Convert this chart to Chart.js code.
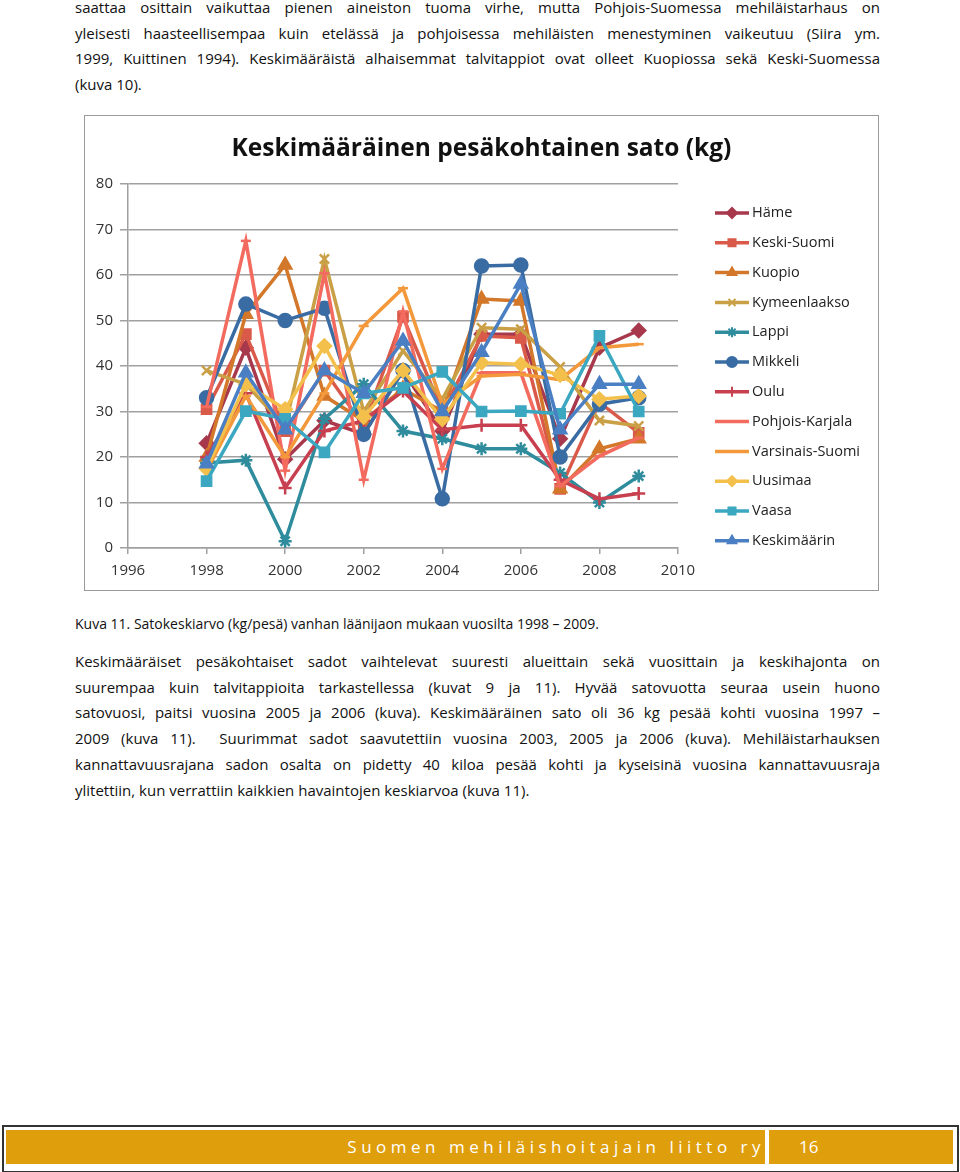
<!DOCTYPE html>
<html>
<head>
<meta charset="utf-8">
<script src="https://cdn.jsdelivr.net/npm/chart.js@4/dist/chart.umd.min.js"></script>
<style>
  body { margin: 0; background: #fff; width: 960px; height: 1172px; position: relative; overflow: hidden;
         font-family: "Open Sans", "Noto Sans", sans-serif; color: #111; }
  .txt { position: absolute; left: 75px; width: 805px; font-size: 15px; line-height: 25.7px; }
  .txt div { white-space: nowrap; text-align: justify; text-align-last: justify; }
  .txt div.last { text-align-last: left; }
  #caption { position: absolute; left: 75px; top: 614px; font-size: 14px; }
  #box { position: absolute; left: 84px; top: 115px; width: 793px; height: 474px; border: 1.5px solid #9a9a9a; }
  #box canvas { position: absolute; left: 0; top: 0; }
  #title { position: absolute; left: 0; width: 793px; top: 14px; text-align: center; font-size: 24.5px;
           font-weight: bold; color: #111; }
  #footer { position: absolute; left: 2px; top: 1125px; width: 953px; height: 44px; border: 2px solid #333; }
  #foot1 { position: absolute; left: 2px; top: 3px; width: 759px; height: 34px; background: #df9e0c; color: #fff;
           text-align: right; font-size: 17px; line-height: 34px; letter-spacing: 4.5px; }
  #foot2 { position: absolute; left: 765px; top: 3px; width: 184px; height: 34px; background: #df9e0c; color: #fff;
           font-size: 17px; line-height: 34px; }
</style>
</head>
<body>
<div class="txt" style="top:-5px">
  <div>saattaa osittain vaikuttaa pienen aineiston tuoma virhe, mutta Pohjois-Suomessa mehiläistarhaus on</div>
  <div>yleisesti haasteellisempaa kuin etelässä ja pohjoisessa mehiläisten menestyminen vaikeutuu (Siira ym.</div>
  <div>1999, Kuittinen 1994). Keskimääräistä alhaisemmat talvitappiot ovat olleet Kuopiossa sekä Keski-Suomessa</div>
  <div class="last">(kuva 10).</div>
</div>

<div id="box">
  <canvas id="c" width="793" height="474"></canvas>
  <div id="title">Keskimääräinen pesäkohtainen sato (kg)</div>
</div>

<div id="caption">Kuva 11. Satokeskiarvo (kg/pesä) vanhan läänijaon mukaan vuosilta 1998 – 2009.</div>

<div class="txt" style="top:649px">
  <div>Keskimääräiset pesäkohtaiset sadot vaihtelevat suuresti alueittain sekä vuosittain ja keskihajonta on</div>
  <div>suurempaa kuin talvitappioita tarkastellessa (kuvat 9 ja 11). Hyvää satovuotta seuraa usein huono</div>
  <div>satovuosi, paitsi vuosina 2005 ja 2006 (kuva). Keskimääräinen sato oli 36 kg pesää kohti vuosina 1997 –</div>
  <div>2009 (kuva 11).&nbsp; Suurimmat sadot saavutettiin vuosina 2003, 2005 ja 2006 (kuva). Mehiläistarhauksen</div>
  <div>kannattavuusrajana sadon osalta on pidetty 40 kiloa pesää kohti ja kyseisinä vuosina kannattavuusraja</div>
  <div class="last">ylitettiin, kun verrattiin kaikkien havaintojen keskiarvoa (kuva 11).</div>
</div>

<div id="footer">
  <div id="foot1">Suomen mehiläishoitajain liitto ry</div>
  <div id="foot2"><span style="margin-left:30px">16</span></div>
</div>

<script>
const years = [1998, 1999, 2000, 2001, 2002, 2003, 2004, 2005, 2006, 2007, 2008, 2009];

const hame           = [23, 44, 19.5, 28, 25, 39, 25.7, 47, 47, 24, 44, 47.8];
const keskiSuomi     = [30.5, 47, 25.7, 39, 26.8, 50.8, 30, 46.6, 46.2, 13, 32, 25.3];
const kuopio         = [20, 51.4, 62.2, 33.4, 28, 35, 30, 54.7, 54.3, 13, 21.8, 24];
const kymeenlaakso   = [39, 36, 26.8, 63.5, 30, 43.3, 32.7, 48.4, 48.1, 39.8, 28, 26.8];
const lappi          = [18.7, 19.3, 1.5, 28.4, 36, 25.7, 24, 21.8, 21.8, 16.5, 10, 15.8];
const mikkeli        = [33, 53.6, 50, 52.7, 25, 39, 10.8, 62, 62.2, 20, 31.6, 33];
const oulu           = [20, 34, 13.2, 25.7, 28, 34.5, 26, 27, 27, 15, 10.8, 12];
const pohjoisKarjala = [31, 67.5, 17, 60.4, 15, 52, 17.4, 38.5, 38.5, 13.6, 20.2, 24.2];
const varsinaisSuomi = [17, 33.4, 20, 34, 48.8, 57.1, 31.6, 37.8, 38.2, 37, 44, 44.8];
const uusimaa        = [17.4, 36, 30.5, 44.4, 28.8, 39, 28.3, 40.7, 40.4, 38, 32.7, 33.4];
const vaasa          = [14.7, 30.1, 28.4, 21, 34, 35.2, 38.7, 30, 30.1, 29.5, 46.6, 30];
const keskimaarin    = [18.5, 38.5, 26, 39, 34, 45.5, 30, 43, 58, 26, 36, 36];

const yTicks = [0, 10, 20, 30, 40, 50, 60, 70, 80];
const xTicks = [1996, 1998, 2000, 2002, 2004, 2006, 2008, 2010];

const SERIES = [
  { label: "Häme",            data: hame,           color: "#a8384c", style: "rectRot", r: 6.5 },
  { label: "Keski-Suomi",     data: keskiSuomi,     color: "#da5a4a", style: "rect",    r: 6.5 },
  { label: "Kuopio",          data: kuopio,         color: "#d3782a", style: "triangle", r: 7 },
  { label: "Kymeenlaakso",    data: kymeenlaakso,   color: "#c9a045", style: "crossRot", r: 6.5 },
  { label: "Lappi",           data: lappi,          color: "#2e8c9c", style: "star",    r: 6.5 },
  { label: "Mikkeli",         data: mikkeli,        color: "#3a6ca4", style: "circle",  r: 6.5 },
  { label: "Oulu",            data: oulu,           color: "#c8404f", style: "cross",   r: 6.5 },
  { label: "Pohjois-Karjala", data: pohjoisKarjala, color: "#f26b5e", style: "line",    r: 5 },
  { label: "Varsinais-Suomi", data: varsinaisSuomi, color: "#f4993b", style: "line",    r: 5 },
  { label: "Uusimaa",         data: uusimaa,        color: "#f4c04c", style: "rectRot", r: 6.5 },
  { label: "Vaasa",           data: vaasa,          color: "#3ba7c0", style: "rect",    r: 6.5 },
  { label: "Keskimäärin",     data: keskimaarin,    color: "#4a7fc3", style: "triangle", r: 7 },
];

const AXIS = { color: "#333", grid: "#a0a0a0", font: { family: "Open Sans", size: 15 } };

// Excel-style legend: short line with the marker in the middle
const sideLegend = {
  id: "sideLegend",
  afterDraw(chart) {
    const ctx = chart.ctx;
    const x0 = 630, x1 = 664, top = 97, step = 29.8;
    ctx.save();
    SERIES.forEach((s, i) => {
      const y = top + i * step;
      ctx.strokeStyle = s.color;
      ctx.lineWidth = 3.5;
      ctx.beginPath();
      ctx.moveTo(x0, y);
      ctx.lineTo(x1, y);
      ctx.stroke();
      if (s.style !== "line") {
        ctx.fillStyle = s.color;
        ctx.lineWidth = 2;
        Chart.helpers.drawPoint(ctx, { pointStyle: s.style, radius: 5, borderWidth: 2, rotation: 0 }, (x0 + x1) / 2, y);
      }
      ctx.fillStyle = "#222";
      ctx.font = "14.5px 'Open Sans'";
      ctx.textBaseline = "middle";
      ctx.textAlign = "left";
      ctx.fillText(s.label, x1 + 3, y);
    });
    ctx.restore();
  },
};

new Chart(document.getElementById("c"), {
  type: "line",
  data: {
    datasets: SERIES.map((s, i) => ({
      label: s.label,
      data: years.map((yr, j) => ({ x: yr, y: s.data[j] })),
      borderColor: s.color,
      backgroundColor: s.color,
      borderWidth: 3.5,
      pointStyle: s.style,
      pointRadius: s.r,
      pointBorderWidth: 2.5,
      tension: 0,
      order: SERIES.length - i,
    })),
  },
  options: {
    responsive: false,
    animation: false,
    layout: { padding: { left: 0, right: 200, top: 68, bottom: 2 } },
    plugins: {
      legend: { display: false },
      tooltip: { enabled: false },
      title: { display: false },
    },
    scales: {
      x: {
        type: "linear",
        min: 1996,
        max: 2010,
        afterBuildTicks: (axis) => { axis.ticks = xTicks.map((v) => ({ value: v })); },
        ticks: { color: AXIS.color, font: AXIS.font, padding: 8, callback: (v) => String(v) },
        grid: { drawOnChartArea: false, color: AXIS.grid, tickLength: 6, lineWidth: 1.5 },
        border: { color: AXIS.grid, width: 1.5 },
      },
      y: {
        min: 0,
        max: 80,
        afterBuildTicks: (axis) => { axis.ticks = yTicks.map((v) => ({ value: v })); },
        afterFit: (axis) => { axis.width = 43; },
        ticks: { color: AXIS.color, font: AXIS.font, padding: 7 },
        grid: { color: AXIS.grid, tickLength: 8, lineWidth: 1.5 },
        border: { color: AXIS.grid, width: 1.5 },
      },
    },
  },
  plugins: [sideLegend],
});
</script>
</body>
</html>
